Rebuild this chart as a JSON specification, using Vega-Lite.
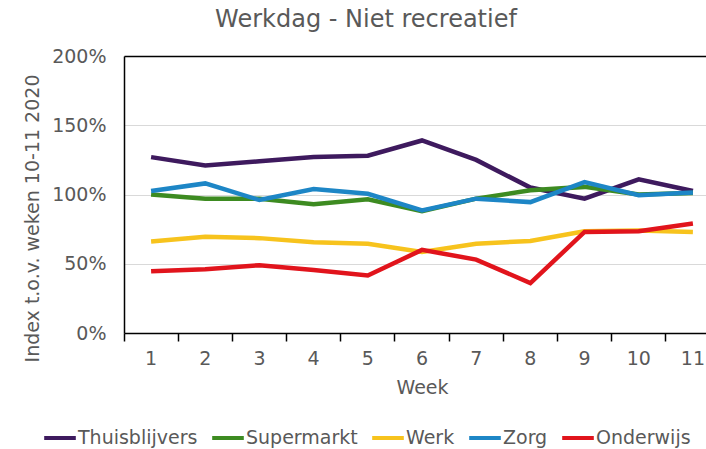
{
  "$schema": "https://vega.github.io/schema/vega-lite/v6.json",
  "width": 596,
  "height": 277,
  "autosize": {"type": "none"},
  "padding": {"left": 124, "top": 56, "right": -14, "bottom": 116},
  "background": "white",
  "title": {
    "text": "Werkdag - Niet recreatief",
    "font": "DejaVu Sans",
    "fontSize": 24,
    "fontWeight": "normal",
    "color": "#595959",
    "anchor": "middle",
    "dx": -56,
    "offset": 15
  },
  "config": {
    "view": {"stroke": null},
    "font": "DejaVu Sans"
  },
  "data": {
    "values": [
      {"week": "1", "cat": "Thuisblijvers", "v": 127},
      {"week": "2", "cat": "Thuisblijvers", "v": 121},
      {"week": "3", "cat": "Thuisblijvers", "v": 124},
      {"week": "4", "cat": "Thuisblijvers", "v": 127},
      {"week": "5", "cat": "Thuisblijvers", "v": 128},
      {"week": "6", "cat": "Thuisblijvers", "v": 139},
      {"week": "7", "cat": "Thuisblijvers", "v": 125},
      {"week": "8", "cat": "Thuisblijvers", "v": 105},
      {"week": "9", "cat": "Thuisblijvers", "v": 97},
      {"week": "10", "cat": "Thuisblijvers", "v": 111},
      {"week": "11", "cat": "Thuisblijvers", "v": 102.5},
      {"week": "1", "cat": "Supermarkt", "v": 100},
      {"week": "2", "cat": "Supermarkt", "v": 97},
      {"week": "3", "cat": "Supermarkt", "v": 97},
      {"week": "4", "cat": "Supermarkt", "v": 93},
      {"week": "5", "cat": "Supermarkt", "v": 96.5},
      {"week": "6", "cat": "Supermarkt", "v": 88},
      {"week": "7", "cat": "Supermarkt", "v": 97},
      {"week": "8", "cat": "Supermarkt", "v": 103},
      {"week": "9", "cat": "Supermarkt", "v": 105.5},
      {"week": "10", "cat": "Supermarkt", "v": 100},
      {"week": "11", "cat": "Supermarkt", "v": 101},
      {"week": "1", "cat": "Werk", "v": 66},
      {"week": "2", "cat": "Werk", "v": 69.5},
      {"week": "3", "cat": "Werk", "v": 68.5},
      {"week": "4", "cat": "Werk", "v": 65.5},
      {"week": "5", "cat": "Werk", "v": 64.5},
      {"week": "6", "cat": "Werk", "v": 58.5},
      {"week": "7", "cat": "Werk", "v": 64.5},
      {"week": "8", "cat": "Werk", "v": 66.5},
      {"week": "9", "cat": "Werk", "v": 73.5},
      {"week": "10", "cat": "Werk", "v": 74},
      {"week": "11", "cat": "Werk", "v": 73},
      {"week": "1", "cat": "Zorg", "v": 102.5},
      {"week": "2", "cat": "Zorg", "v": 108},
      {"week": "3", "cat": "Zorg", "v": 96},
      {"week": "4", "cat": "Zorg", "v": 104},
      {"week": "5", "cat": "Zorg", "v": 100.5},
      {"week": "6", "cat": "Zorg", "v": 88.5},
      {"week": "7", "cat": "Zorg", "v": 97},
      {"week": "8", "cat": "Zorg", "v": 94.5},
      {"week": "9", "cat": "Zorg", "v": 109},
      {"week": "10", "cat": "Zorg", "v": 99.5},
      {"week": "11", "cat": "Zorg", "v": 101.5},
      {"week": "1", "cat": "Onderwijs", "v": 44.5},
      {"week": "2", "cat": "Onderwijs", "v": 46},
      {"week": "3", "cat": "Onderwijs", "v": 49},
      {"week": "4", "cat": "Onderwijs", "v": 45.5},
      {"week": "5", "cat": "Onderwijs", "v": 41.5},
      {"week": "6", "cat": "Onderwijs", "v": 60},
      {"week": "7", "cat": "Onderwijs", "v": 53},
      {"week": "8", "cat": "Onderwijs", "v": 36},
      {"week": "9", "cat": "Onderwijs", "v": 73},
      {"week": "10", "cat": "Onderwijs", "v": 73.5},
      {"week": "11", "cat": "Onderwijs", "v": 79}
    ]
  },
  "mark": {"type": "line", "strokeWidth": 4.5, "strokeJoin": "miter", "strokeCap": "butt"},
  "encoding": {
    "x": {
      "field": "week",
      "type": "ordinal",
      "sort": ["1","2","3","4","5","6","7","8","9","10","11"],
      "scale": {"type": "band", "paddingInner": 0, "paddingOuter": 0},
      "axis": {
        "title": "Week",
        "titleFont": "DejaVu Sans",
        "titleFontSize": 19,
        "titleFontWeight": "normal",
        "titleColor": "#595959",
        "titlePadding": 10,
        "labelAngle": 0,
        "labelFont": "DejaVu Sans",
        "labelFontSize": 19,
        "labelColor": "#595959",
        "labelPadding": 8,
        "bandPosition": 0,
        "ticks": true,
        "tickSize": 8,
        "tickColor": "#000000",
        "tickWidth": 1.5,
        "domainColor": "#000000",
        "domainWidth": 1.5,
        "grid": false
      }
    },
    "y": {
      "field": "v",
      "type": "quantitative",
      "scale": {"domain": [0, 200], "nice": false},
      "axis": {
        "title": "Index t.o.v. weken 10-11 2020",
        "titleFont": "DejaVu Sans",
        "titleFontSize": 19,
        "titleFontWeight": "normal",
        "titleColor": "#595959",
        "titleAngle": -90,
        "titleX": -92,
        "titleY": 162,
        "titleAlign": "center",
        "titleBaseline": "middle",
        "values": [0, 50, 100, 150, 200],
        "labelExpr": "datum.value + '%'",
        "labelFont": "DejaVu Sans",
        "labelFontSize": 19,
        "labelColor": "#595959",
        "labelPadding": 18,
        "ticks": false,
        "domainColor": "#000000",
        "domainWidth": 1.5,
        "grid": true,
        "gridColor": {"condition": {"test": "datum.value === 200", "value": "#000000"}, "value": "#d9d9d9"},
        "gridWidth": {"condition": {"test": "datum.value === 200", "value": 1.5}, "value": 1}
      }
    },
    "color": {
      "field": "cat",
      "type": "nominal",
      "scale": {
        "domain": ["Thuisblijvers", "Supermarkt", "Werk", "Zorg", "Onderwijs"],
        "range": ["#3e1a5e", "#3d8b21", "#f7c31d", "#1d86c6", "#e1141c"]
      },
      "legend": {
        "title": null,
        "orient": "none",
        "direction": "horizontal",
        "legendX": -82,
        "legendY": 364,
        "symbolType": "stroke",
        "symbolSize": 1000,
        "symbolStrokeWidth": 4,
        "labelFont": "DejaVu Sans",
        "labelFontSize": 19,
        "labelColor": "#595959",
        "labelOffset": 0,
        "columnPadding": 6
      }
    }
  }
}
